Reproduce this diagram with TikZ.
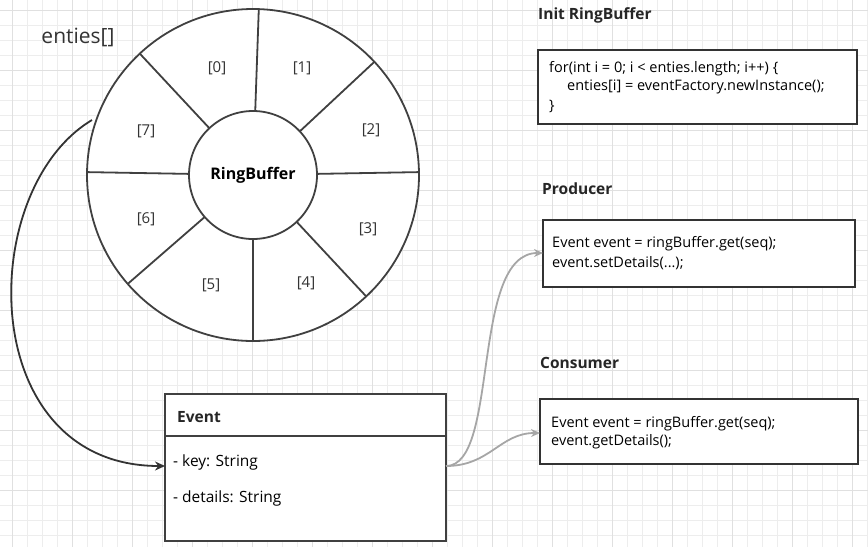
\documentclass[tikz,border=0pt]{standalone}
\usepackage{fontspec}
\setmainfont{Open Sans}
\usetikzlibrary{arrows.meta}
\tikzset{
  shape line/.style={draw=black!75, line width=1.8pt, fill=white},
  code/.style={font=\fontsize{14.5}{17}\selectfont, anchor=west, inner sep=0pt},
  title/.style={font=\fontsize{15.5}{18}\selectfont\bfseries, anchor=west, inner sep=0pt, text=black!85},
  slot/.style={font=\fontsize{15}{18}\selectfont, text=black!80},
  link/.style={draw=black!35, line width=1.8pt, -{Stealth[length=9pt,width=8pt]}},
}
\begin{document}
\begin{tikzpicture}[x=1pt,y=-1pt]
\useasboundingbox (0,0) rectangle (868,547);
% grid
\foreach \gx in {-3,12,...,868} \draw[black!7, line width=0.8pt] (\gx,0) -- (\gx,547);
\foreach \gy in {-5,10,...,547} \draw[black!7, line width=0.8pt] (0,\gy) -- (868,\gy);
\foreach \gx in {12,72,...,868} \draw[black!12, line width=0.8pt] (\gx,0) -- (\gx,547);
\foreach \gy in {10,70,...,547} \draw[black!12, line width=0.8pt] (0,\gy) -- (868,\gy);

% ring buffer
\coordinate (ring) at (253,175);
\draw[shape line] (ring) circle (166);
\foreach \a in {-88,-43,-1,47,90,139,-179,-133}
  \draw[draw=black!75, line width=1.8pt] (ring) ++(\a:64) -- ++(\a:102);
\draw[shape line] (ring) circle (64);
\node[font=\fontsize{16}{19}\selectfont\bfseries] (rb) at (ring) {RingBuffer};
\node[font=\fontsize{21}{25}\selectfont, text=black!80] (name) at (78,37) {enties[]};
\node[slot] (s0) at (217,68) {[0]};
\node[slot] (s1) at (302,68) {[1]};
\node[slot] (s2) at (371,130) {[2]};
\node[slot] (s3) at (368,229) {[3]};
\node[slot] (s4) at (306,283) {[4]};
\node[slot] (s5) at (211,285) {[5]};
\node[slot] (s6) at (146,219) {[6]};
\node[slot] (s7) at (146,131) {[7]};
\coordinate (ringout) at (92,120);

% event class
\draw[shape line] (165,394) rectangle (446,541);
\draw[draw=black!75, line width=1.8pt] (165,436) -- (446,436);
\node[title] (ev) at (177,417) {Event};
\node[code, font=\fontsize{15.5}{18}\selectfont] (key) at (173,462) {- key: String};
\node[code, font=\fontsize{15.5}{18}\selectfont] (det) at (173,498) {- details: String};
\coordinate (evin) at (165,466);
\coordinate (evout) at (446,466);

% init
\node[title] (initt) at (538,15) {Init RingBuffer};
\draw[draw=black!80, line width=1.8pt, fill=white] (538,50) rectangle (857,124);
\node[code] (i1) at (549,69) {for(int i = 0; i < enties.length; i++) \{};
\node[code] (i2) at (567,87) {enties[i] = eventFactory.newInstance();};
\node[code] (i3) at (549,106) {\}};

% producer
\node[title] (prodt) at (542,189) {Producer};
\draw[draw=black!80, line width=1.8pt, fill=white] (543,220) rectangle (855,287);
\node[code] (p1) at (552,244) {Event event = ringBuffer.get(seq);};
\node[code] (p2) at (552,263) {event.setDetails(...);};
\coordinate (prodin) at (543,253);

% consumer
\node[title] (const) at (540,363) {Consumer};
\draw[draw=black!80, line width=1.8pt, fill=white] (540,399) rectangle (858,464);
\node[code] (c1) at (551,424) {Event event = ringBuffer.get(seq);};
\node[code] (c2) at (551,442) {event.getDetails();};
\coordinate (consin) at (540,433);

% links
\draw[draw=black!80, line width=1.8pt, -{Stealth[length=10pt,width=9pt]}]
  (ringout) .. controls (-25,190) and (-25,466) .. (evin);
\draw[link] (evout) .. controls (500,466) and (470,253) .. (prodin);
\draw[link] (evout) .. controls (490,466) and (500,433) .. (consin);
\end{tikzpicture}
\end{document}
